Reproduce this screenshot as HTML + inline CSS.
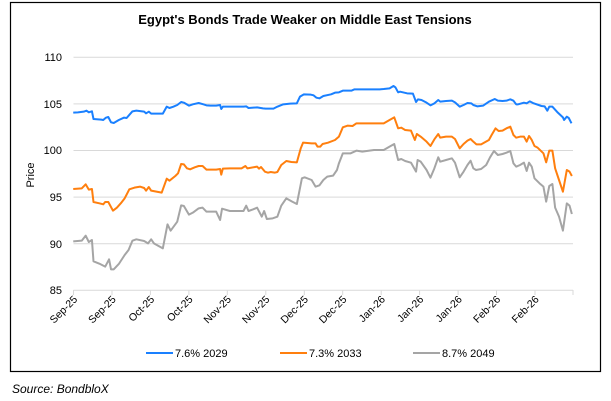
<!DOCTYPE html>
<html><head><meta charset="utf-8"><style>
body{margin:0;background:#fff;}
svg{display:block;font-family:"Liberation Sans",sans-serif;}
</style></head><body>
<svg width="611" height="401" viewBox="0 0 611 401" xmlns="http://www.w3.org/2000/svg">
<rect x="10.5" y="2.5" width="590" height="369" fill="#fff" stroke="#000" stroke-width="1.2"/>
<text x="305" y="24" text-anchor="middle" font-size="13" font-weight="bold" fill="#000">Egypt's Bonds Trade Weaker on Middle East Tensions</text>
<g stroke="#d9d9d9" stroke-width="1">
<line x1="73.5" x2="573" y1="57.3" y2="57.3"/>
<line x1="73.5" x2="573" y1="103.9" y2="103.9"/>
<line x1="73.5" x2="573" y1="150.5" y2="150.5"/>
<line x1="73.5" x2="573" y1="197.1" y2="197.1"/>
<line x1="73.5" x2="573" y1="243.7" y2="243.7"/>
<line x1="73.5" x2="573" y1="290.3" y2="290.3"/>
</g>
<g font-size="11" fill="#000" text-anchor="end">
<text x="62" y="61">110</text><text x="62" y="108">105</text><text x="62" y="154">100</text>
<text x="62" y="201">95</text><text x="62" y="248">90</text><text x="62" y="294">85</text>
</g>
<text transform="translate(34,175) rotate(-90)" font-size="11" text-anchor="middle">Price</text>
<g stroke="#d9d9d9">
<line x1="73.5" x2="73.5" y1="290" y2="295"/><line x1="112" x2="112" y1="290" y2="295"/><line x1="150.4" x2="150.4" y1="290" y2="295"/><line x1="188.9" x2="188.9" y1="290" y2="295"/><line x1="227.3" x2="227.3" y1="290" y2="295"/><line x1="265.8" x2="265.8" y1="290" y2="295"/><line x1="304.3" x2="304.3" y1="290" y2="295"/><line x1="342.7" x2="342.7" y1="290" y2="295"/><line x1="381.2" x2="381.2" y1="290" y2="295"/><line x1="419.6" x2="419.6" y1="290" y2="295"/><line x1="458.1" x2="458.1" y1="290" y2="295"/><line x1="496.5" x2="496.5" y1="290" y2="295"/><line x1="535" x2="535" y1="290" y2="295"/><line x1="573" x2="573" y1="290" y2="295"/>
</g>
<g font-size="10.5" fill="#000" text-anchor="end">
<text transform="translate(78,300) rotate(-45)">Sep-25</text>
<text transform="translate(116.5,300) rotate(-45)">Sep-25</text>
<text transform="translate(155,300) rotate(-45)">Oct-25</text>
<text transform="translate(193.4,300) rotate(-45)">Oct-25</text>
<text transform="translate(231.8,300) rotate(-45)">Nov-25</text>
<text transform="translate(270.3,300) rotate(-45)">Nov-25</text>
<text transform="translate(308.8,300) rotate(-45)">Dec-25</text>
<text transform="translate(347.2,300) rotate(-45)">Dec-25</text>
<text transform="translate(385.7,300) rotate(-45)">Jan-26</text>
<text transform="translate(424.1,300) rotate(-45)">Jan-26</text>
<text transform="translate(462.6,300) rotate(-45)">Jan-26</text>
<text transform="translate(501,300) rotate(-45)">Feb-26</text>
<text transform="translate(539.5,300) rotate(-45)">Feb-26</text>
</g>
<g transform="translate(0,40) scale(0.38956,0.33333)" fill="none" stroke-width="2" stroke-linejoin="round">
<polyline vector-effect="non-scaling-stroke" stroke="#a5a5a5" points="188,604 210,602 220,587 228,606 236,600 240,664 255,671 270,680 280,658 285,688 292,688 305,672 320,645 330,630 340,602 350,598 370,603 380,610 388,598 395,610 418,625 430,553 438,572 455,545 465,496 472,498 485,524 495,518 510,505 520,503 530,515 555,515 565,540 570,506 590,513 625,513 632,497 638,513 650,508 660,503 672,530 678,513 685,537 700,535 712,530 722,497 735,475 750,485 762,492 775,415 782,412 800,420 810,440 820,436 830,420 840,410 855,407 865,390 870,370 880,340 900,340 915,332 930,335 960,330 985,330 1000,320 1012,312 1022,360 1030,357 1040,363 1055,368 1068,395 1072,360 1080,365 1095,390 1105,413 1115,385 1125,352 1130,365 1145,360 1160,355 1168,368 1180,412 1190,395 1200,375 1208,362 1215,385 1222,390 1235,387 1248,375 1258,352 1268,333 1278,345 1290,342 1300,338 1310,333 1318,370 1325,380 1335,375 1345,368 1352,393 1358,368 1365,380 1372,415 1385,430 1395,440 1402,485 1410,438 1418,432 1425,503 1435,530 1445,572 1455,490 1462,497 1468,522"/>
<polyline vector-effect="non-scaling-stroke" stroke="#ff7f0e" points="188,447 210,445 220,433 228,449 236,447 240,486 255,490 265,493 270,486 278,486 290,512 300,503 310,490 320,475 332,448 345,443 360,440 370,444 375,452 382,441 388,452 415,458 428,416 435,422 450,408 457,400 465,372 472,373 480,385 488,388 500,382 510,378 520,378 530,389 555,389 565,387 568,404 572,386 590,385 620,385 630,378 635,385 660,380 665,386 670,381 680,395 688,398 695,396 705,398 712,396 722,375 735,363 748,366 762,367 772,325 778,308 800,310 810,310 815,320 822,320 828,312 842,308 860,300 870,290 875,276 880,262 892,257 905,258 915,250 985,250 1000,240 1012,232 1022,265 1030,263 1040,270 1055,272 1065,300 1070,282 1080,290 1095,305 1105,318 1115,298 1125,282 1130,293 1145,290 1160,290 1168,297 1180,325 1190,312 1200,302 1208,297 1215,305 1223,313 1235,313 1255,300 1262,285 1272,265 1280,273 1290,272 1300,265 1310,260 1318,285 1325,293 1335,290 1345,290 1352,305 1358,288 1365,300 1372,318 1380,323 1395,340 1402,367 1410,332 1418,332 1425,385 1435,420 1445,455 1455,390 1462,395 1468,408"/>
<polyline vector-effect="non-scaling-stroke" stroke="#1a80ff" points="188,218 200,217 215,215 222,212 228,217 236,214 240,237 260,239 265,240 272,233 278,231 285,247 292,249 305,240 318,233 325,234 340,214 350,212 370,215 375,220 382,215 388,221 418,221 428,200 435,204 445,200 455,195 465,186 472,188 485,197 495,193 510,189 522,193 530,196 540,197 555,197 565,195 568,207 572,200 590,200 625,200 632,199 638,204 660,202 675,205 682,206 690,206 702,206 712,200 727,193 745,191 762,190 770,170 780,163 798,164 805,166 812,173 820,175 830,168 850,163 860,158 870,157 880,152 902,152 910,148 975,148 985,147 1000,145 1010,138 1015,142 1022,157 1027,155 1045,160 1060,161 1068,186 1073,178 1082,180 1095,188 1105,196 1115,190 1125,180 1130,185 1145,183 1160,182 1168,187 1180,200 1190,195 1200,189 1210,190 1215,195 1225,199 1240,197 1255,185 1270,177 1278,182 1290,183 1300,182 1310,178 1318,182 1325,193 1330,193 1345,188 1352,190 1360,184 1370,190 1390,198 1398,199 1405,212 1410,200 1418,200 1432,218 1445,232 1448,240 1455,230 1460,234 1467,250"/>
</g>
<g font-size="11" fill="#000">
<line x1="146" x2="173" y1="353" y2="353" stroke="#1a80ff" stroke-width="2"/><text x="175" y="357">7.6% 2029</text>
<line x1="280" x2="307" y1="353" y2="353" stroke="#ff7f0e" stroke-width="2"/><text x="309" y="357">7.3% 2033</text>
<line x1="413" x2="440" y1="353" y2="353" stroke="#a5a5a5" stroke-width="2"/><text x="442" y="357">8.7% 2049</text>
</g>
<text x="12" y="393" font-size="12" font-style="italic" fill="#000">Source: BondbloX</text>
</svg>
</body></html>
